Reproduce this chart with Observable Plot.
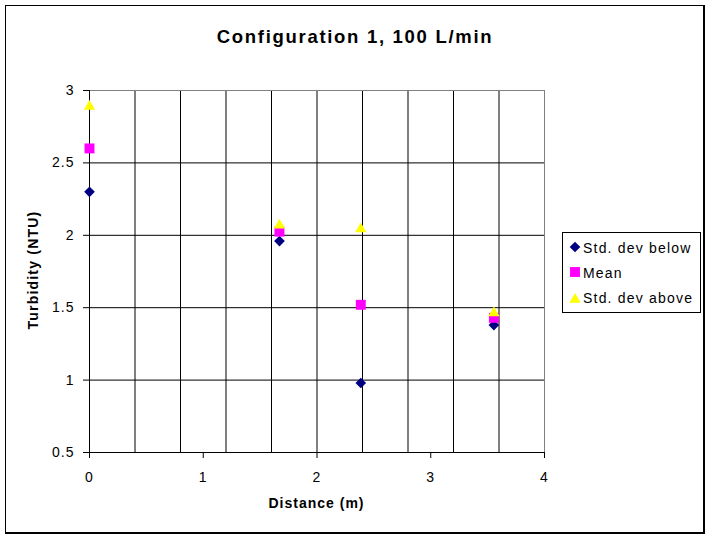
<!DOCTYPE html>
<html><head><meta charset="utf-8">
<script src="https://cdn.jsdelivr.net/npm/d3@7"></script>
<script src="https://cdn.jsdelivr.net/npm/@observablehq/plot@0.6"></script>
<style>
body{margin:0;background:#fff;}
#c{position:relative;width:710px;height:539px;background:#fff;font-family:"Liberation Sans",Arial,sans-serif;overflow:hidden;color:#000}
#frame{position:absolute;left:5px;top:5px;width:700px;height:529px;box-sizing:border-box;border:1px solid #000;border-right-width:2px;border-bottom-width:2px}
#plot{position:absolute;left:0;top:0}
#plot svg text{letter-spacing:1px}
.t{position:absolute;white-space:nowrap;line-height:1}
#title{left:0;width:710px;text-align:center;top:27.6px;font-size:18.5px;font-weight:bold;letter-spacing:1.7px}
#xlab{left:216.5px;width:200px;text-align:center;top:496px;font-size:14px;font-weight:bold;letter-spacing:1px}
#ylab{left:32.5px;top:270px;font-size:14px;font-weight:bold;letter-spacing:1.2px;transform:translate(-50%,-50%) rotate(-90deg)}
#legend{position:absolute;left:562px;top:232px;width:139px;height:81px;box-sizing:border-box;border:1px solid #000;background:#fff}
.li{font-size:14px;letter-spacing:1.2px}
</style></head>
<body>
<div id="c">
  <div id="frame"></div>
  <div id="plot"></div>
  <div class="t" id="title">Configuration 1, 100 L/min</div>
  <div class="t" id="xlab">Distance (m)</div>
  <div class="t" id="ylab">Turbidity (NTU)</div>
  <div id="legend"></div>
</div>
<script>
// Data
const distance = [0, 1.67, 2.385, 3.555];
const stdBelow = [2.30, 1.96, 0.98, 1.38];
const meanVals = [2.60, 2.025, 1.52, 1.43];
const stdAbove = [2.90, 2.08, 2.055, 1.475];
const seriesNames = ["Std. dev below", "Mean", "Std. dev above"];
const seriesColors = ["#000080", "#FF00FF", "#FFFF00"];
const xTicks = [0, 1, 2, 3, 4];
const yTicks = [0.5, 1, 1.5, 2, 2.5, 3];
const xGrid = [0.4, 0.8, 1.2, 1.6, 2.0, 2.4, 2.8, 3.2, 3.6];
const yGrid = [1, 1.5, 2, 2.5];

const xDomain = [0, 4], yDomain = [0.5, 3];
const font = '"Liberation Sans", Arial, sans-serif';

const chart = Plot.plot({
  width: 710, height: 539,
  marginLeft: 89, marginRight: 166, marginTop: 90, marginBottom: 87,
  x: {domain: xDomain},
  y: {domain: yDomain},
  style: {fontFamily: font, fontSize: "14px", color: "#000", background: "transparent", overflow: "visible"},
  marks: [
    Plot.ruleX(xGrid, {stroke: "#000"}),
    Plot.ruleY(yGrid, {stroke: "#000"}),
    Plot.ruleY([yDomain[1]], {stroke: "#808080"}),
    Plot.ruleX([xDomain[1]], {stroke: "#808080"}),
    Plot.ruleX([xDomain[0]], {stroke: "#000"}),
    Plot.ruleY([yDomain[0]], {stroke: "#000"}),
    Plot.axisX({ticks: xTicks, tickSize: 6, tickPadding: 14, label: null, tickFormat: d => String(d)}),
    Plot.axisY({ticks: yTicks, tickSize: 6, tickPadding: 9, label: null, tickFormat: d => String(d)}),
    Plot.dot(distance, {x: d => d, y: (d, i) => stdBelow[i], symbol: "diamond2", fill: seriesColors[0], r: 4.8}),
    Plot.dot(distance, {x: d => d, y: (d, i) => meanVals[i], symbol: "square", fill: seriesColors[1], r: 5.6}),
    Plot.dot(distance, {x: d => d, y: (d, i) => stdAbove[i], symbol: "triangle", fill: seriesColors[2], r: 4.2, dy: 1.6})
  ]
});
document.getElementById("plot").appendChild(chart);

// Legend
const legend = document.getElementById("legend");
const symDefs = [[d3.symbolDiamond2, 4.8], [d3.symbolSquare, 5.6], [d3.symbolTriangle, 4.2]];
seriesNames.forEach((name, i) => {
  const top = 8 + i * 25.3;
  const [sym, r] = symDefs[i];
  const path = d3.symbol(sym, r * r * Math.PI)();
  const s = document.createElementNS("http://www.w3.org/2000/svg", "svg");
  s.setAttribute("width", 14); s.setAttribute("height", 14);
  s.style.position = "absolute"; s.style.left = "5px"; s.style.top = (top - 1) + "px";
  s.innerHTML = `<path transform="translate(7,${i === 2 ? 8.6 : 7})" d="${path}" fill="${seriesColors[i]}"/>`;
  legend.appendChild(s);
  const t = document.createElement("div");
  t.className = "t li";
  t.style.left = "20px"; t.style.top = (top - 0.2) + "px";
  t.textContent = name;
  legend.appendChild(t);
});
</script>
</body></html>
